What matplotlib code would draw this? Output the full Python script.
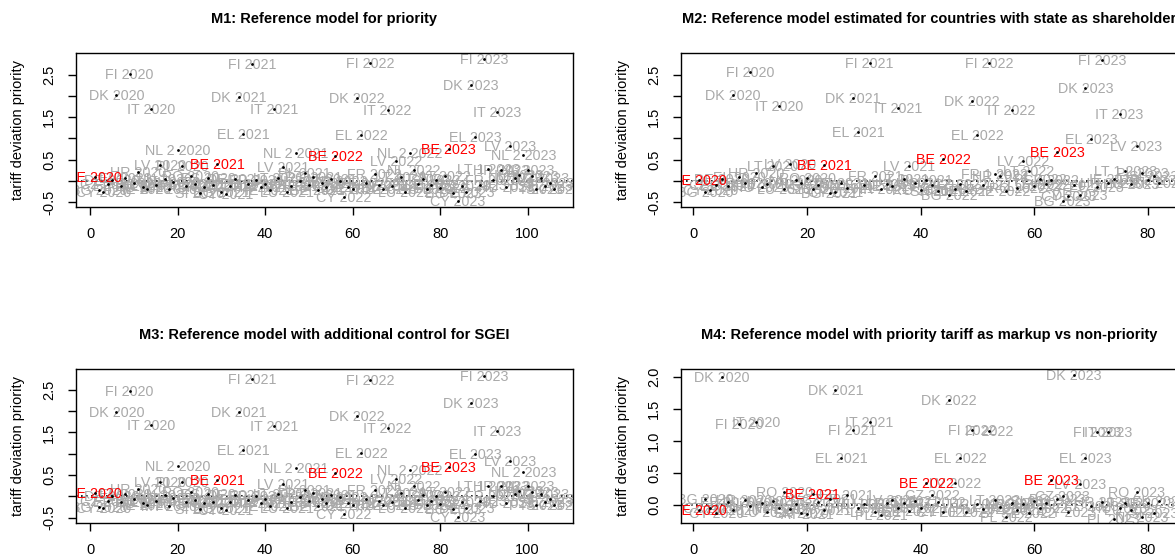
"""
Tariff deviation priority by country and year, four model variants (2x2 panels)
"""
import numpy as np
import matplotlib.pyplot as plt
from matplotlib.transforms import offset_copy

plt.rcParams['font.family'] = ['Liberation Sans', 'DejaVu Sans']

years = [2020, 2021, 2022, 2023]

# M1 / M3: countries per year (same set)
c1_2020 = ["BE", "BG", "CY", "CZ", "DE", "DK", "EE", "EL", "FI", "FR", "HR", "HU", "IE", "IT",
           "LT", "LV", "LU", "MT", "NL", "NL 2", "PL", "PT", "RO", "SE", "SI", "SK", "ES", "AT"]
c1_2021 = ["BE", "BG", "CY", "CZ", "DE", "DK", "EL", "EE", "FI", "FR", "HR", "HU", "IE", "IT",
           "LT", "LV", "LU", "MT", "NL 2", "NL", "PL", "PT", "RO", "SE", "SI", "SK", "AT"]
c1_2022 = ["BE", "BG", "CY", "CZ", "DE", "DK", "EL", "EE", "FI", "FR", "HR", "HU", "IT", "IE",
           "LV", "LT", "LU", "NL 2", "NL", "PL", "PT", "RO", "SE", "SI", "SK", "AT"]
c1_2023 = ["BE", "BG", "CY", "CZ", "DE", "DK", "EL", "EE", "FI", "LT 1", "FR", "IT", "HR", "HU",
           "LV", "LU", "IE", "NL 2", "NL", "PL", "PT", "RO", "SE", "SI", "SK"]

v1_2020 = [0.10, -0.22, -0.25, -0.08, 0.02, 2.02, -0.12, 0.08, 2.52, -0.05, 0.20, -0.15, -0.18, 1.70,
           -0.10, 0.38, 0.05, -0.20, -0.02, 0.72, 0.36, -0.12, 0.12, -0.08, -0.28, -0.15, 0.06, -0.10]
v1_2021 = [0.41, -0.25, -0.30, -0.12, 0.05, 1.98, 1.10, -0.08, 2.75, 0.02, -0.15, -0.06, -0.22, 1.69,
           0.08, 0.32, -0.27, -0.12, 0.66, 0.00, 0.18, -0.10, 0.10, -0.22, -0.05, -0.14, 0.04]
v1_2022 = [0.59, 0.00, -0.38, -0.15, -0.19, 1.95, 1.09, -0.05, 2.77, 0.16, -0.10, -0.20, 1.67, -0.12,
           0.46, 0.10, -0.25, 0.66, 0.26, -0.08, 0.05, -0.18, -0.10, 0.02, -0.17, 0.12]
v1_2023 = [0.75, -0.28, -0.46, -0.12, -0.25, 2.26, 1.03, -0.10, 2.86, 0.28, 0.02, 1.63, 0.26, -0.15,
           0.83, 0.07, 0.15, 0.60, 0.26, 0.12, -0.20, 0.07, -0.12, -0.05, -0.20]

v3_2020 = [0.09, -0.24, -0.26, -0.10, 0.01, 1.99, -0.13, 0.06, 2.48, -0.06, 0.18, -0.16, -0.20, 1.68,
           -0.11, 0.35, 0.04, -0.22, -0.03, 0.71, 0.33, -0.13, 0.10, -0.09, -0.30, -0.16, 0.05, -0.12]
v3_2021 = [0.39, -0.27, -0.31, -0.13, 0.03, 1.97, 1.09, -0.09, 2.75, 0.01, -0.16, -0.07, -0.23, 1.65,
           0.06, 0.29, -0.28, -0.13, 0.66, -0.01, 0.16, -0.11, 0.08, -0.23, -0.06, -0.15, 0.03]
v3_2022 = [0.54, -0.02, -0.40, -0.16, -0.21, 1.89, 1.03, -0.06, 2.72, 0.14, -0.11, -0.21, 1.61, -0.13,
           0.42, 0.08, -0.26, 0.62, 0.24, -0.09, 0.04, -0.19, -0.11, 0.01, -0.18, 0.10]
v3_2023 = [0.68, -0.30, -0.47, -0.13, -0.26, 2.20, 0.99, -0.11, 2.83, 0.25, 0.01, 1.54, 0.24, -0.16,
           0.82, 0.05, 0.13, 0.58, 0.24, 0.10, -0.21, 0.05, -0.13, -0.06, -0.21]

# M2: countries with state as shareholder
c2_2020 = ["BE", "BG", "CY", "CZ", "DE", "EE", "DK", "EL", "FR", "FI", "HR", "HU", "IE", "LT",
           "IT", "LU", "LV", "NL", "PL", "RO", "SI", "SK"]
c2_2021 = ["BE", "BG", "CY", "CZ", "DE", "DK", "EL", "EE", "FI", "FR", "HR", "HU", "IE", "IT",
           "LT", "LV", "LU", "RO", "PL", "SI", "SK"]
c2_2022 = ["BE", "BG", "CY", "CZ", "DE", "DK", "EL", "EE", "FI", "FR 1", "HR", "IE", "IT", "RO",
           "LV", "LT", "LU", "PL", "SI", "SK"]
c2_2023 = ["BE", "BG", "CY", "CZ", "DE", "DK", "EL", "EE", "FI", "HR", "IE", "IT", "LT 1", "HU",
           "LV", "PL", "RO", "SI", "SK"]

v2_2020 = [0.03, -0.27, -0.22, -0.10, 0.05, -0.12, 2.02, 0.10, -0.05, 2.55, 0.19, -0.15, -0.08, 0.36,
           1.75, -0.18, 0.40, 0.02, -0.05, 0.08, -0.20, -0.10]
v2_2021 = [0.38, -0.28, -0.27, -0.05, -0.16, 1.95, 1.16, -0.10, 2.77, 0.11, -0.20, -0.08, -0.12, 1.71,
           0.05, 0.36, -0.05, -0.22, 0.02, -0.10, -0.24]
v2_2022 = [0.52, -0.32, -0.20, -0.08, -0.24, 1.87, 1.09, -0.10, 2.77, 0.17, 0.11, -0.24, 1.66, -0.16,
           0.46, 0.23, -0.13, 0.05, -0.08, 0.02]
v2_2023 = [0.68, -0.48, -0.36, -0.10, -0.32, 2.18, 0.99, -0.15, 2.84, -0.05, 0.05, 1.58, 0.23, -0.08,
           0.83, 0.19, 0.02, 0.11, -0.05]

# M4: priority tariff as markup vs non-priority
c4_2020 = ["BE", "BG", "CZ", "CY", "DK", "EE", "EL", "FI", "HR", "HU", "IT", "LT", "LU", "LV",
           "NL", "RO", "PL", "SI", "SK"]
c4_2021 = ["AT", "BE", "BG", "CY", "CZ", "DK", "EL", "EE", "FI", "HR", "HU", "IT", "LT", "PL",
           "LU", "LV", "NL", "RO", "SE", "SI", "SK"]
c4_2022 = ["BE", "CZ", "BG", "CY", "DK", "LV", "EL", "EE", "FI", "HR", "HU", "IT", "LT", "LU",
           "PL", "NL", "PT", "RO", "SE", "SI", "SK", "AT"]
c4_2023 = ["BE", "BG", "CZ", "CY", "DK", "LV", "EL", "EE", "FI", "HR", "IT", "PL", "HU", "LT",
           "LU", "RO", "NL", "SE", "SI", "SK"]

v4_2020 = [-0.07, 0.10, -0.05, -0.12, 2.00, 0.05, -0.08, 1.26, 0.08, -0.02, 1.30, 0.03, -0.10, 0.06,
           -0.04, 0.21, -0.06, 0.02, -0.12]
v4_2021 = [-0.14, 0.18, 0.05, -0.08, 0.10, 1.80, 0.73, 0.16, 1.17, -0.05, 0.02, 1.30, -0.10, -0.16,
           0.04, 0.08, -0.05, 0.03, -0.09, 0.06, -0.04]
v4_2022 = [0.35, 0.16, 0.05, -0.10, 1.64, 0.34, 0.73, -0.10, 1.17, 0.02, -0.06, 1.15, 0.08, -0.03,
           -0.18, 0.04, -0.08, 0.02, -0.12, 0.06, -0.05, 0.03]
v4_2023 = [0.39, 0.09, 0.15, -0.10, 2.03, 0.33, 0.73, -0.02, 1.14, 0.05, 1.14, -0.21, -0.05, 0.03,
           -0.08, 0.20, -0.19, 0.04, -0.12, 0.06]

titles = ["M1: Reference model for priority",
          "M2: Reference model estimated for countries with state as shareholder",
          "M3: Reference model with additional control for SGEI",
          "M4: Reference model with priority tariff as markup vs non-priority"]


def make_labels(country_lists):
    return [f"{c} {y}" for y, cs in zip(years, country_lists) for c in cs]


W, H = 1175, 560
fig = plt.figure(figsize=(W / 100, H / 100), dpi=100)


def px_axes(x0, y0, x1, y1):
    return fig.add_axes([x0 / W, 1 - y1 / H, (x1 - x0) / W, (y1 - y0) / H])


def draw_panel(ax, labels, values, xlim, ylim, yticks, ylabels, xticks):
    x = np.arange(1, len(values) + 1)
    values = np.asarray(values)
    ax.axhline(0, color='black', ls=(0, (1, 2)), lw=1.2, zorder=1)
    trans = offset_copy(ax.transData, fig=fig, y=-5, units='dots')
    for xi, yi, lab in zip(x, values, labels):
        red = lab.startswith("BE ")
        ax.text(xi, yi, lab, transform=trans, color='red' if red else '#a9a9a9',
                fontsize=10.3, ha='center', va='baseline', clip_on=True, zorder=3 if red else 2)
    ax.scatter(x, values, s=4, color='black', linewidths=0, zorder=4)

    ax.set_xlim(*xlim)
    ax.set_ylim(*ylim)
    ax.set_xticks(xticks)
    ax.set_yticks(yticks)
    ax.set_yticklabels(ylabels, rotation=90, va='center')
    ax.tick_params(direction='out', length=6, width=1, labelsize=10.5)
    ax.tick_params(axis='x', pad=9)
    ax.tick_params(axis='y', pad=8)
    for s in ax.spines.values():
        s.set_linewidth(1)


yt_a = [-0.5, 0, 0.5, 1.0, 1.5, 2.0, 2.5]
yl_a = ["-0.5", "", "0.5", "", "1.5", "", "2.5"]
yt_b = [0, 0.5, 1.0, 1.5, 2.0]
yl_b = ["0.0", "0.5", "1.0", "1.5", "2.0"]

left_x, right_x = (75.7, 572.7), (680.7, 1177.7)
top_y, bot_y = (53.3, 206.5), (369.3, 522.5)

ax1 = px_axes(left_x[0], top_y[0], left_x[1], top_y[1])
draw_panel(ax1, make_labels([c1_2020, c1_2021, c1_2022, c1_2023]),
           v1_2020 + v1_2021 + v1_2022 + v1_2023,
           (-3.3, 110.3), (-0.6, 3.0), yt_a, yl_a, [0, 20, 40, 60, 80, 100])

ax2 = px_axes(right_x[0], top_y[0], right_x[1], top_y[1])
draw_panel(ax2, make_labels([c2_2020, c2_2021, c2_2022, c2_2023]),
           v2_2020 + v2_2021 + v2_2022 + v2_2023,
           (-2.24, 85.24), (-0.6, 3.0), yt_a, yl_a, [0, 20, 40, 60, 80])

ax3 = px_axes(left_x[0], bot_y[0], left_x[1], bot_y[1])
draw_panel(ax3, make_labels([c1_2020, c1_2021, c1_2022, c1_2023]),
           v3_2020 + v3_2021 + v3_2022 + v3_2023,
           (-3.3, 110.3), (-0.61, 2.98), yt_a, yl_a, [0, 20, 40, 60, 80, 100])

ax4 = px_axes(right_x[0], bot_y[0], right_x[1], bot_y[1])
draw_panel(ax4, make_labels([c4_2020, c4_2021, c4_2022, c4_2023]),
           v4_2020 + v4_2021 + v4_2022 + v4_2023,
           (-2.24, 85.24), (-0.27, 2.115), yt_b, yl_b, [0, 20, 40, 60, 80])

# titles and y labels
for (xr, yr), title in zip([(left_x, top_y), (right_x, top_y), (left_x, bot_y), (right_x, bot_y)], titles):
    cx = (xr[0] + xr[1]) / 2
    fig.text(cx / W, 1 - (yr[0] - 34) / H, title, ha='center', va='center',
             fontsize=10.5, fontweight='bold')
    fig.text((xr[0] - 58) / W, 1 - ((yr[0] + yr[1]) / 2) / H, "tariff deviation priority",
             rotation=90, ha='center', va='center', fontsize=10.5)

fig.savefig("out.png", dpi=100)
